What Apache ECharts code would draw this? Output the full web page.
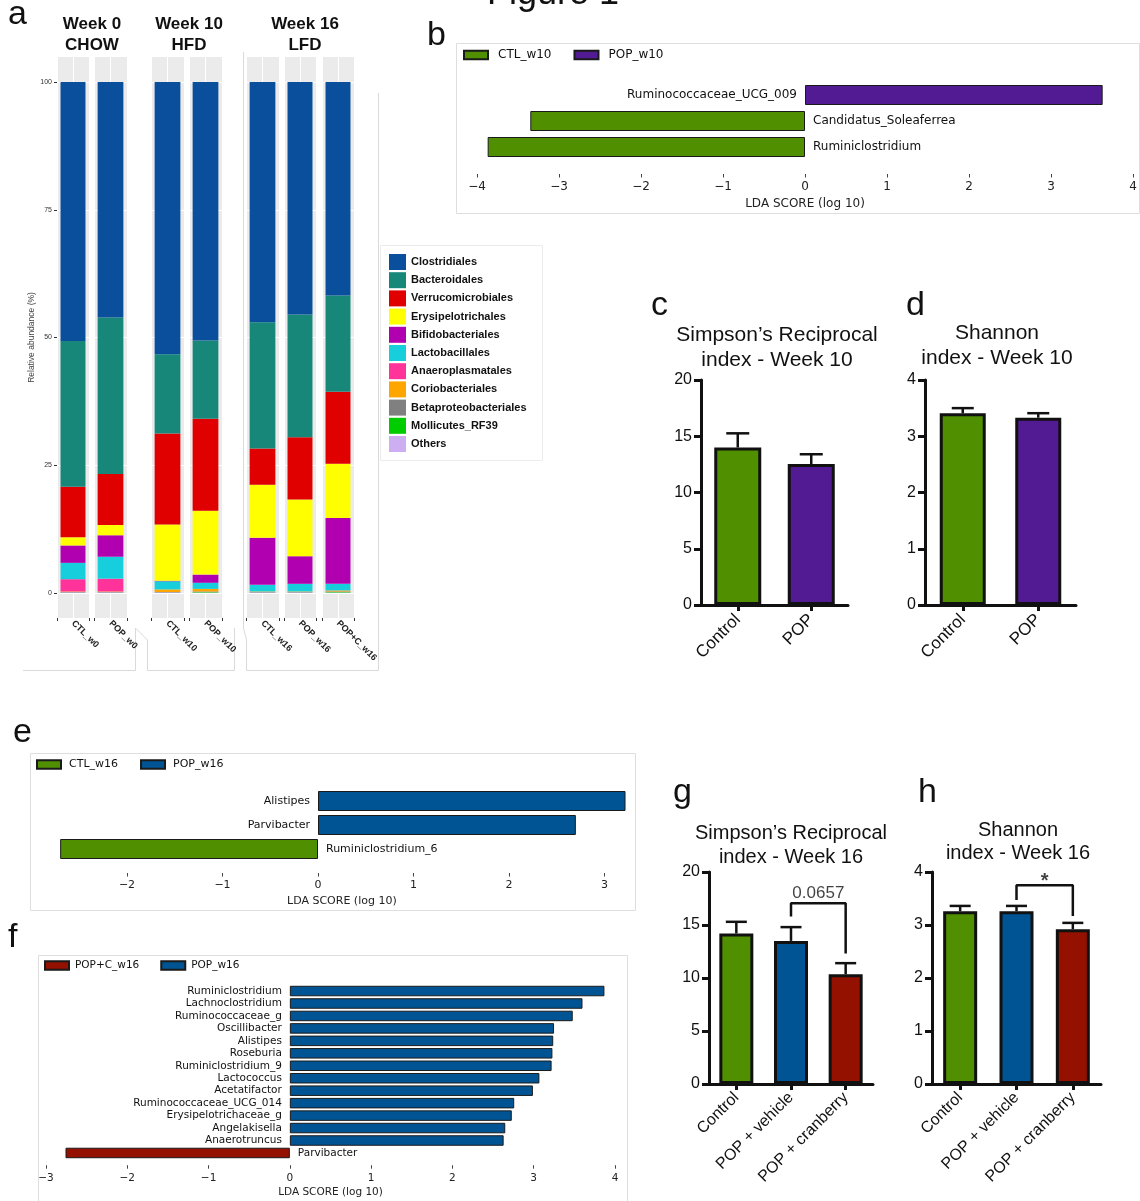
<!DOCTYPE html>
<html>
<head>
<meta charset="utf-8">
<title>Figure 1</title>
<script src="https://cdn.jsdelivr.net/npm/echarts@6.0.0/dist/echarts.min.js"></script>
<style>
  html, body { margin: 0; padding: 0; background: #fff; }
  #chart { width: 1140px; height: 1201px; }
</style>
</head>
<body>
<div id="chart"></div>
<script>
// ---------------- Panel a: order-level relative abundance (%) ----------------
const samples = ['CTL_w0', 'POP_w0', 'CTL_w10', 'POP_w10', 'CTL_w16', 'POP_w16', 'POP+C_w16'];
const orderNames = ['Clostridiales', 'Bacteroidales', 'Verrucomicrobiales', 'Erysipelotrichales',
  'Bifidobacteriales', 'Lactobacillales', 'Anaeroplasmatales', 'Coriobacteriales',
  'Betaproteobacteriales', 'Mollicutes_RF39', 'Others'];
// one value per sample, in the order of `samples`
const clostridiales         = [50.7, 46.1, 53.3, 50.6, 47.0, 45.5, 41.8];
const bacteroidales         = [28.5, 30.6, 15.5, 15.3, 24.7, 24.0, 18.8];
const verrucomicrobiales    = [9.9, 10.0, 17.8, 18.0, 7.1, 12.2, 14.1];
const erysipelotrichales    = [1.6, 2.0, 11.0, 12.5, 10.4, 11.1, 10.6];
const bifidobacteriales     = [3.4, 4.2, 0.1, 1.6, 9.2, 5.4, 12.9];
const lactobacillales       = [3.2, 4.3, 1.6, 1.2, 1.3, 1.5, 1.3];
const anaeroplasmatales     = [2.4, 2.5, 0, 0, 0, 0, 0];
const coriobacteriales      = [0.1, 0.1, 0.5, 0.5, 0.1, 0.1, 0.2];
const betaproteobacteriales = [0.1, 0.1, 0.1, 0.1, 0.1, 0.1, 0.1];
const mollicutesRF39        = [0, 0, 0, 0.1, 0, 0, 0.1];
const others                = [0.1, 0.1, 0.1, 0.1, 0.1, 0.1, 0.1];
const abundanceTicks = [0, 25, 50, 75, 100];

// ---------------- Panels b, e, f: LEfSe LDA scores (log 10) ----------------
const ldaW10Taxa = ['Ruminococcaceae_UCG_009', 'Candidatus_Soleaferrea', 'Ruminiclostridium'];
const ldaW10Ctl  = ['-', -3.35, -3.87];
const ldaW10Pop  = [3.63, '-', '-'];
const ldaW10Ticks = [-4, -3, -2, -1, 0, 1, 2, 3, 4];

const ldaW16Taxa = ['Alistipes', 'Parvibacter', 'Ruminiclostridium_6'];
const ldaW16Ctl  = ['-', '-', -2.70];
const ldaW16Pop  = [3.22, 2.70, '-'];
const ldaW16Ticks = [-2, -1, 0, 1, 2, 3];

const ldaCranTaxa = ['Ruminiclostridium', 'Lachnoclostridium', 'Ruminococcaceae_g', 'Oscillibacter',
  'Alistipes', 'Roseburia', 'Ruminiclostridium_9', 'Lactococcus', 'Acetatifactor',
  'Ruminococcaceae_UCG_014', 'Erysipelotrichaceae_g', 'Angelakisella', 'Anaerotruncus', 'Parvibacter'];
const ldaCranPopC = ['-', '-', '-', '-', '-', '-', '-', '-', '-', '-', '-', '-', '-', -2.76];
const ldaCranPop  = [3.87, 3.60, 3.48, 3.25, 3.24, 3.23, 3.22, 3.07, 2.99, 2.76, 2.73, 2.65, 2.63, '-'];
const ldaCranTicks = [-3, -2, -1, 0, 1, 2, 3, 4];

// ---------------- Panels c, d, g, h: alpha diversity (mean + SEM) ----------------
const week10Groups = ['Control', 'POP'];
const simpsonW10Mean = [14.0, 12.53];
const simpsonW10Sem  = [1.26, 0.87];
const shannonW10Mean = [3.41, 3.33];
const shannonW10Sem  = [0.09, 0.08];
const simpsonTicks = [0, 5, 10, 15, 20];
const shannonTicks = [0, 1, 2, 3, 4];

const week16Groups = ['Control', 'POP + vehicle', 'POP + cranberry'];
const simpsonW16Mean = [14.2, 13.5, 10.35];
const simpsonW16Sem  = [1.1, 1.3, 1.05];
const shannonW16Mean = [3.26, 3.26, 2.92];
const shannonW16Sem  = [0.10, 0.10, 0.12];
// comparison brackets: [group index, level] path, and their annotations
const simpsonW16Bracket = [[1, 15.8], [1, 17.05], [2, 17.05], [2, 12.3]];
const simpsonW16BracketAt = [[1.5, 17.05]];
const simpsonW16P = '0.0657';
const shannonW16Bracket = [[1, 3.47], [1, 3.75], [2, 3.75], [2, 3.17]];
const shannonW16BracketAt = [[1.5, 3.75]];
const shannonW16P = '*';

// ---------------- styling ----------------
const FA = '"Liberation Sans", Arial, Helvetica, sans-serif';
const FD = '"DejaVu Sans", sans-serif';
const INK = '#111111';
const GREEN = '#4f8f00', PURPLE = '#531b93', BLUE = '#005493', CAYENNE = '#941100';
const orderColors = ['#0a4f9c', '#17877a', '#e00000', '#ffff00', '#b000b0', '#17cfdc',
  '#ff3399', '#ffa500', '#808080', '#00cc00', '#cdaef2'];
const abundance = [clostridiales, bacteroidales, verrucomicrobiales, erysipelotrichales,
  bifidobacteriales, lactobacillales, anaeroplasmatales, coriobacteriales,
  betaproteobacteriales, mollicutesRF39, others];

const grid = [], xAxis = [], yAxis = [], series = [], legend = [], graphic = [];
const minus = v => (v < 0 ? '\u2212' + Math.abs(v) : String(v));

// ---------------- panel a: one facet per sample ----------------
const facetX = [[57, 89], [94, 127], [151, 184], [189, 222], [246, 279], [284, 316], [322, 354]];
samples.forEach((s, i) => {
  const [x0, x1] = facetX[i];
  // grey facet background with a white vertical guide
  const bg = grid.push({ left: x0, top: 57, width: x1 - x0, height: 561, show: true,
    backgroundColor: '#ebebeb', borderWidth: 0, outerBoundsMode: 'none' }) - 1;
  xAxis.push({ gridIndex: bg, type: 'value', min: -1, max: 1, interval: 1,
    axisLine: { show: false }, axisTick: { show: false }, axisLabel: { show: false },
    splitLine: { show: true, lineStyle: { color: '#ffffff', width: 1 } } });
  yAxis.push({ gridIndex: bg, type: 'value', min: 0, max: 1, show: false });

  const dg = grid.push({ left: x0, top: 82, width: x1 - x0, height: 511, outerBoundsMode: 'none' }) - 1;
  const xi = xAxis.push({ gridIndex: dg, type: 'category', data: [s], offset: 25,
    axisLine: { show: false, onZero: false },
    axisTick: { show: true, length: 3, lineStyle: { color: '#333', width: 1 } },
    axisLabel: { interval: 0, rotate: -45, margin: 4, fontSize: 9, fontWeight: 'bold',
      color: '#222', fontFamily: FA },
    splitLine: { show: false } }) - 1;
  const yi = yAxis.push({ gridIndex: dg, type: 'value', min: 0, max: 100, interval: 25,
    axisLine: { show: false },
    axisTick: { show: i === 0, length: 3, lineStyle: { color: '#333', width: 1 } },
    axisLabel: { show: i === 0, fontSize: 7, color: '#333', margin: 5, fontFamily: FA },
    splitLine: { show: true, lineStyle: { color: '#ffffff', width: 1 } },
    name: i === 0 ? 'Relative abundance (%)' : '', nameLocation: 'middle', nameGap: 20,
    nameTextStyle: { fontSize: 8.5, color: '#444', fontFamily: FA } }) - 1;
  // stacked from the bottom: last listed order first
  for (let k = orderNames.length - 1; k >= 0; k--) {
    series.push({ type: 'bar', name: orderNames[k], xAxisIndex: xi, yAxisIndex: yi,
      stack: 'facet' + i, barWidth: '78%', data: [abundance[k][i]],
      itemStyle: { color: orderColors[k] }, silent: true });
  }
});
legend.push({ data: orderNames, orient: 'vertical', left: 389, top: 254, padding: 0,
  itemWidth: 17, itemHeight: 16, itemGap: 2.2, icon: 'rect', selectedMode: false,
  textStyle: { fontFamily: FA, fontSize: 11, fontWeight: 'bold', color: '#111' } });

// ---------------- LEfSe panels ----------------
function lefse(cfg) {
  const g = grid.push({ left: cfg.left, top: cfg.top, width: cfg.width, height: cfg.height,
    outerBoundsMode: 'none' }) - 1;
  const xi = xAxis.push({ gridIndex: g, type: 'value', min: cfg.min, max: cfg.max,
    offset: cfg.offset, axisLine: { show: false },
    axisTick: { show: true, length: 3.5, customValues: cfg.ticks, lineStyle: { color: '#444', width: 1 } },
    axisLabel: { customValues: cfg.ticks, formatter: minus, fontSize: cfg.font, color: '#222',
      margin: cfg.margin, fontFamily: FD },
    splitLine: { show: false },
    name: 'LDA SCORE (log 10)', nameLocation: 'middle', nameGap: cfg.nameGap,
    nameTextStyle: { fontSize: cfg.font, color: '#222', fontFamily: FD } }) - 1;
  const yi = yAxis.push({ gridIndex: g, type: 'category', inverse: true, data: cfg.taxa, show: false }) - 1;
  const label = pos => ({ show: true, position: pos, distance: 8, formatter: '{b}',
    fontFamily: FD, fontSize: cfg.font, color: '#111' });
  series.push({ type: 'bar', name: cfg.negName, xAxisIndex: xi, yAxisIndex: yi, stack: 'lda' + g,
    barWidth: cfg.barWidth, data: cfg.neg, silent: true,
    itemStyle: { color: cfg.negColor, borderColor: '#1a1a1a', borderWidth: 1 }, label: label('right') });
  series.push({ type: 'bar', name: cfg.posName, xAxisIndex: xi, yAxisIndex: yi, stack: 'lda' + g,
    barWidth: cfg.barWidth, data: cfg.pos, silent: true,
    itemStyle: { color: cfg.posColor, borderColor: '#1a1a1a', borderWidth: 1 }, label: label('left') });
  legend.push({ data: [cfg.negName, cfg.posName], left: cfg.legLeft, top: cfg.legTop, padding: 0,
    itemWidth: 24, itemHeight: 8.5, itemGap: cfg.legGap, icon: 'rect', selectedMode: false,
    textStyle: { fontFamily: FD, fontSize: cfg.font, color: '#111', padding: [0, 0, 0, cfg.legPad] } });
}

lefse({ left: 477, width: 656, top: 82, height: 78, min: -4, max: 4, offset: 14, margin: 7, nameGap: 24,
  ticks: ldaW10Ticks, taxa: ldaW10Taxa, neg: ldaW10Ctl, pos: ldaW10Pop, font: 12, barWidth: 20,
  negName: 'CTL_w10', posName: 'POP_w10', negColor: GREEN, posColor: PURPLE,
  legLeft: 463, legTop: 49, legGap: 22, legPad: 5 });

lefse({ left: 318 - 2.75 * 95.5, width: 6 * 95.5, top: 789, height: 72, min: -2.75, max: 3.25,
  offset: 12, margin: 7, nameGap: 23, ticks: ldaW16Ticks, taxa: ldaW16Taxa, neg: ldaW16Ctl, pos: ldaW16Pop,
  font: 11, barWidth: 20, negName: 'CTL_w16', posName: 'POP_w16', negColor: GREEN, posColor: BLUE,
  legLeft: 36, legTop: 759, legGap: 22, legPad: 3 });

lefse({ left: 46, width: 569, top: 984.8, height: 174.4, min: -3, max: 4, offset: 6, margin: 8, nameGap: 22,
  ticks: ldaCranTicks, taxa: ldaCranTaxa, neg: ldaCranPopC, pos: ldaCranPop, font: 10.5,
  barWidth: 10.5, negName: 'POP+C_w16', posName: 'POP_w16', negColor: CAYENNE, posColor: BLUE,
  legLeft: 44, legTop: 960, legGap: 21, legPad: 1 });

// ---------------- diversity bar charts ----------------
function errorBar(cap) {
  return function (params, api) {
    const base = api.coord([api.value(0), api.value(1)]);
    const top = api.coord([api.value(0), api.value(2)]);
    const st = { stroke: INK, lineWidth: 2.5 };
    return { type: 'group', children: [
      { type: 'line', shape: { x1: top[0], y1: base[1], x2: top[0], y2: top[1] }, style: st },
      { type: 'line', shape: { x1: top[0] - cap / 2, y1: top[1], x2: top[0] + cap / 2, y2: top[1] }, style: st }
    ] };
  };
}

function diversity(cfg) {
  const g = grid.push({ left: cfg.left, top: cfg.top, width: cfg.width, height: cfg.height,
    outerBoundsMode: 'none' }) - 1;
  const xi = xAxis.push({ gridIndex: g, type: 'category', data: cfg.cats,
    axisLine: { show: true, lineStyle: { color: INK, width: 3 } },
    axisTick: { show: true, alignWithLabel: true, length: 6, lineStyle: { color: INK, width: 3 } },
    axisLabel: { interval: 0, rotate: 45, margin: cfg.labelMargin, fontSize: cfg.catFont,
      color: INK, fontFamily: FA },
    splitLine: { show: false } }) - 1;
  const yi = yAxis.push({ gridIndex: g, type: 'value', min: 0, max: cfg.ticks[cfg.ticks.length - 1],
    interval: cfg.ticks[1] - cfg.ticks[0],
    axisLine: { show: true, onZero: false, lineStyle: { color: INK, width: 3 } },
    axisTick: { show: true, length: 7, lineStyle: { color: INK, width: 3 } },
    axisLabel: { fontSize: cfg.tickFont, color: INK, margin: 9, fontFamily: FA },
    splitLine: { show: false } }) - 1;
  series.push({ type: 'bar', xAxisIndex: xi, yAxisIndex: yi, barWidth: cfg.barWidth, z: 3, silent: true,
    data: cfg.mean.map((v, i) => ({ value: v, itemStyle: { color: cfg.colors[i] } })),
    itemStyle: { borderColor: INK, borderWidth: 3 } });
  series.push({ type: 'custom', xAxisIndex: xi, yAxisIndex: yi, z: 2, silent: true,
    data: cfg.mean.map((v, i) => [i, v, v + cfg.sem[i]]), encode: { x: 0, y: [1, 2] },
    renderItem: errorBar(cfg.cap) });
  if (cfg.bracket) {
    // value axis over the category bands so the bracket can sit between groups
    const oi = xAxis.push({ gridIndex: g, type: 'value', min: -0.5, max: cfg.cats.length - 0.5,
      show: false, axisLine: { onZero: false } }) - 1;
    series.push({ type: 'line', xAxisIndex: oi, yAxisIndex: yi, data: cfg.bracket, symbol: 'none',
      z: 5, silent: true, lineStyle: { color: INK, width: 2.5 } });
    series.push({ type: 'scatter', xAxisIndex: oi, yAxisIndex: yi, data: cfg.bracketAt, symbolSize: 0,
      z: 5, silent: true, label: { show: true, position: 'top', distance: cfg.noteGap,
        formatter: cfg.note, fontSize: cfg.noteFont, fontWeight: cfg.noteWeight,
        color: INK, fontFamily: FA } });
  }
}

diversity({ left: 701, width: 147, top: 380, height: 225, ticks: simpsonTicks, cats: week10Groups,
  mean: simpsonW10Mean, sem: simpsonW10Sem, colors: [GREEN, PURPLE], barWidth: 47, cap: 23,
  tickFont: 16, catFont: 17, labelMargin: 12 });
diversity({ left: 925, width: 151, top: 380, height: 225, ticks: shannonTicks, cats: week10Groups,
  mean: shannonW10Mean, sem: shannonW10Sem, colors: [GREEN, PURPLE], barWidth: 46, cap: 22,
  tickFont: 16, catFont: 17, labelMargin: 12 });
diversity({ left: 709, width: 164, top: 872, height: 212, ticks: simpsonTicks, cats: week16Groups,
  mean: simpsonW16Mean, sem: simpsonW16Sem, colors: [GREEN, BLUE, CAYENNE], barWidth: 34, cap: 21,
  tickFont: 16, catFont: 16, labelMargin: 11,
  bracket: simpsonW16Bracket, bracketAt: simpsonW16BracketAt, note: simpsonW16P,
  noteFont: 17, noteWeight: 'normal', noteGap: 1 });
diversity({ left: 932, width: 169, top: 872, height: 212, ticks: shannonTicks, cats: week16Groups,
  mean: shannonW16Mean, sem: shannonW16Sem, colors: [GREEN, BLUE, CAYENNE], barWidth: 34, cap: 21,
  tickFont: 16, catFont: 16, labelMargin: 11,
  bracket: shannonW16Bracket, bracketAt: shannonW16BracketAt, note: shannonW16P,
  noteFont: 20, noteWeight: 'bold', noteGap: -6 });

// ---------------- text and frames ----------------
function text(str, x, y, font, align) {
  graphic.push({ type: 'text', x: x, y: y, silent: true, z: 10,
    style: { text: str, font: font, fill: INK, align: align || 'left', verticalAlign: 'middle' } });
}
const big = '34px ' + FA;
text('Figure 1', 487, -6, '36px ' + FA);
text('a', 8, 14.5, big);
text('b', 427, 36, big);
text('c', 651, 306, big);
text('d', 906, 306, big);
text('e', 13, 733, big);
text('f', 8, 938, big);
text('g', 673, 793, big);
text('h', 918, 793, big);

const facetFont = 'bold 17px ' + FA;
text('Week 0', 92, 24, facetFont, 'center');
text('CHOW', 92, 45, facetFont, 'center');
text('Week 10', 189, 24, facetFont, 'center');
text('HFD', 189, 45, facetFont, 'center');
text('Week 16', 305, 24, facetFont, 'center');
text('LFD', 305, 45, facetFont, 'center');

text('Simpson\u2019s Reciprocal', 777, 335, '21px ' + FA, 'center');
text('index - Week 10', 777, 360, '21px ' + FA, 'center');
text('Shannon', 997, 333, '21px ' + FA, 'center');
text('index - Week 10', 997, 358, '21px ' + FA, 'center');
text('Simpson\u2019s Reciprocal', 791, 833, '20px ' + FA, 'center');
text('index - Week 16', 791, 857, '20px ' + FA, 'center');
text('Shannon', 1018, 830, '20px ' + FA, 'center');
text('index - Week 16', 1018, 853, '20px ' + FA, 'center');

function frame(x, y, w, h, color) {
  graphic.push({ type: 'rect', silent: true, z: -5, shape: { x: x, y: y, width: w, height: h },
    style: { fill: 'none', stroke: color, lineWidth: 1 } });
}
function rule(points) {
  graphic.push({ type: 'polyline', silent: true, z: -5, shape: { points: points },
    style: { fill: 'none', stroke: '#dadada', lineWidth: 1 } });
}
frame(456.5, 43.5, 683, 170, '#dedede');
frame(30.5, 753.5, 605, 157, '#dedede');
frame(38.5, 955.5, 589, 250, '#dedede');
frame(380.5, 245.5, 162, 215, '#ececec');
rule([[23, 670.5], [135.5, 670.5], [135.5, 628]]);
rule([[135.5, 628], [147.5, 640], [147.5, 670.5], [234.5, 670.5], [234.5, 628]]);
rule([[243.5, 52], [243.5, 628], [246.5, 640], [246.5, 670.5], [378.5, 670.5], [378.5, 93]]);

const chart = echarts.init(document.getElementById('chart'), null, { renderer: 'canvas' });
chart.setOption({
  animation: false,
  backgroundColor: '#ffffff',
  textStyle: { fontFamily: FA },
  grid: grid,
  xAxis: xAxis,
  yAxis: yAxis,
  legend: legend,
  series: series,
  graphic: graphic
});
</script>
</body>
</html>
